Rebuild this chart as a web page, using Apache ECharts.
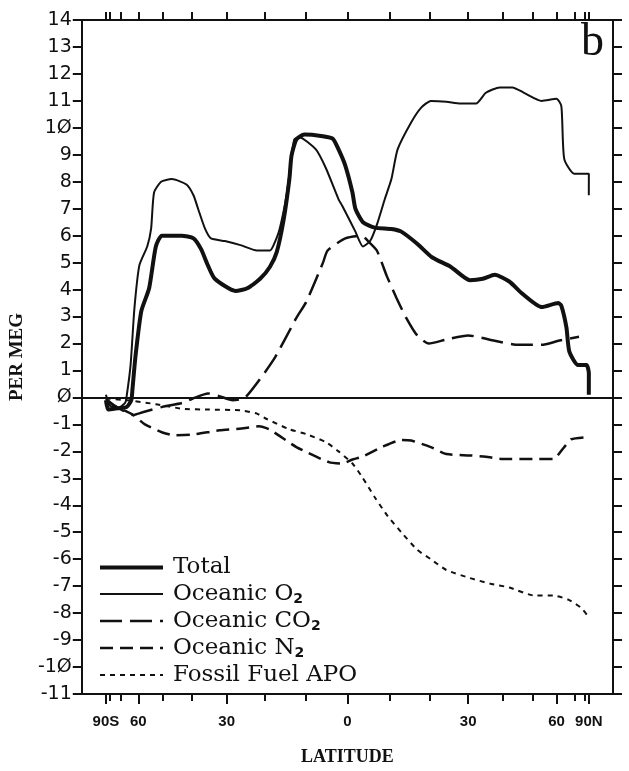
<!DOCTYPE html>
<html>
<head>
<meta charset="utf-8">
<script src="https://cdn.jsdelivr.net/npm/echarts@6/dist/echarts.min.js"></script>
<style>
  html, body { margin: 0; padding: 0; background: #fff; }
  #chart { width: 629px; height: 771px; }
</style>
</head>
<body>
<div id="chart"></div>
<script>
// latitude in degrees, values in per meg
const totalLat = [-90, -82, -72, -66, -63.5, -62.9, -61.4, -58.6, -55.2, -52.5, -50.2, -43.4, -39.6, -37.3, -35.3, -33.3, -27.6, -24.5, -21.2, -18.7, -17, -15.3, -13.9, -13.4, -12.2, -10.3, -6.3, -3.5, -2.1, -0.5, 1.2, 1.9, 3.7, 6.5, 10.5, 12.9, 16.8, 20.5, 25.3, 30.5, 34.1, 37.6, 42.1, 46.4, 53.6, 60.9, 62.4, 65.1, 66.8, 72.8, 82, 90, 89];
const totalVal = [-0.1, -0.45, -0.4, -0.35, -0.1, 0.3, 1.5, 3.2, 4.05, 5.6, 6.0, 6.0, 5.9, 5.5, 4.9, 4.4, 3.95, 4.05, 4.4, 4.85, 5.4, 6.6, 8.1, 8.95, 9.57, 9.75, 9.7, 9.6, 9.2, 8.6, 7.6, 7.0, 6.5, 6.3, 6.25, 6.15, 5.7, 5.2, 4.85, 4.35, 4.4, 4.55, 4.3, 3.85, 3.35, 3.5, 3.4, 2.6, 1.7, 1.2, 1.2, 0.9, 0.1];

const o2Lat = [-90, -80, -72, -67, -66.2, -63.9, -61.9, -59.5, -56, -54.4, -53.2, -50.5, -46.7, -41.8, -39.6, -38.2, -36.1, -34.4, -30.5, -26.3, -22, -18.7, -17.8, -16.3, -14.6, -13.5, -12.7, -11.5, -7.5, -5.1, -2.1, -1.2, 1.9, 3.7, 5.4, 7.0, 8.9, 10.5, 12, 15.3, 17.8, 20.2, 24.2, 27.9, 32.2, 35, 39.1, 43.1, 47, 53.6, 60, 62.4, 63.9, 69.9, 84.9, 90, 89];
const o2Val = [0.1, -0.3, -0.4, -0.2, 0, 1.2, 3.3, 4.9, 5.6, 6.25, 7.6, 8.0, 8.1, 7.9, 7.5, 7.0, 6.25, 5.9, 5.8, 5.65, 5.45, 5.45, 5.65, 6.25, 7.5, 8.8, 9.57, 9.65, 9.2, 8.5, 7.35, 7.1, 6.15, 5.6, 5.8, 6.4, 7.35, 8.1, 9.2, 10.2, 10.75, 11.0, 10.97, 10.9, 10.9, 11.3, 11.5, 11.5, 11.3, 11.0, 11.08, 10.8, 8.85, 8.3, 8.3, 8.3, 7.5];

const co2Lat = [-90, -75, -62.5, -58, -50, -43, -39, -35.3, -32, -28.4, -25, -17.8, -12.2, -9.8, -5.8, -4.7, -0.5, 3.5, 4.9, 7.0, 9.4, 11.7, 14.1, 16.8, 19.7, 24.2, 30, 37.6, 45.3, 53.6, 60.9, 73.6];
const co2Val = [-0.05, -0.3, -0.65, -0.55, -0.35, -0.2, 0, 0.15, 0.05, -0.1, 0, 1.4, 2.95, 3.55, 5.0, 5.45, 5.9, 6.0, 5.8, 5.45, 4.5, 3.7, 2.95, 2.3, 2.0, 2.15, 2.3, 2.1, 1.95, 1.95, 2.1, 2.25];

const n2Lat = [-90, -75, -62.5, -57, -50, -46, -40, -32, -26, -21.5, -18.7, -12.2, -4.4, -1.2, 1.2, 3.5, 8.2, 12.9, 15.3, 20.2, 24.2, 30.5, 35, 40, 50.9, 58.5, 63.9, 68, 84.9];
const n2Val = [-0.1, -0.3, -0.65, -1.0, -1.3, -1.4, -1.38, -1.22, -1.15, -1.07, -1.2, -1.84, -2.4, -2.45, -2.3, -2.2, -1.84, -1.58, -1.6, -1.84, -2.1, -2.15, -2.2, -2.28, -2.28, -2.28, -1.84, -1.55, -1.47];

const fossilLat = [-90, -80, -66, -52.5, -43, -35, -26.3, -22, -19.5, -13.9, -9.8, -5.1, -2.1, 1.2, 3.5, 6.5, 9.6, 12.9, 16.8, 20.2, 24.2, 30.5, 36.1, 42.1, 50.9, 58.5, 66.2, 75.3, 88];
const fossilVal = [0, -0.05, -0.1, -0.25, -0.42, -0.45, -0.48, -0.6, -0.8, -1.18, -1.36, -1.66, -2.0, -2.45, -2.95, -3.7, -4.4, -5.0, -5.65, -6.0, -6.4, -6.7, -6.9, -7.05, -7.35, -7.35, -7.5, -7.8, -8.15];

const tickLats = [-90, -80, -70, -60, -50, -40, -30, -20, -10, 0, 10, 20, 30, 40, 50, 60, 70, 80, 90];
const labelLats = [-90, -60, -30, 0, 30, 60, 90];
const labelNames = ['90S', '60', '30', '0', '30', '60', '90N'];

const seriesNames = ['Total', 'Oceanic O2', 'Oceanic CO2', 'Oceanic N2', 'Fossil Fuel APO'];
const legendText = [
  '{t|Total}',
  '{t|Oceanic O}{s|2}',
  '{t|Oceanic CO}{s|2}',
  '{t|Oceanic N}{s|2}',
  '{t|Fossil Fuel APO}'
];

const ink = '#111';
const lineWidths = [4, 2, 2.5, 2.5, 2];
const lineTypes = ['solid', 'solid', [22, 8], [13, 7], [5, 5]];

const sinLat = d => Math.sin(d * Math.PI / 180);
const toPts = (lats, vals) => lats.map((d, i) => [sinLat(d), vals[i]]);

const chart = echarts.init(document.getElementById('chart'));

function line(i, lats, vals) {
  return {
    name: seriesNames[i],
    type: 'line',
    data: toPts(lats, vals),
    symbol: 'none',
    smooth: 0.2,
    animation: false,
    lineStyle: { color: ink, width: lineWidths[i], type: lineTypes[i] },
    itemStyle: { color: ink }
  };
}

const series = [
  line(0, totalLat, totalVal),
  line(1, o2Lat, o2Val),
  line(2, co2Lat, co2Val),
  line(3, n2Lat, n2Val),
  line(4, fossilLat, fossilVal)
];
series[0].markLine = {
  silent: true,
  animation: false,
  symbol: ['none', 'none'],
  label: { show: false },
  lineStyle: { color: ink, width: 2, type: 'solid' },
  data: [{ yAxis: 0 }]
};

const latFmt = v => {
  const d = Math.round(Math.asin(Math.max(-1, Math.min(1, v))) * 180 / Math.PI);
  const i = labelLats.indexOf(d);
  return i >= 0 ? labelNames[i] : '';
};

const baseX = {
  type: 'value',
  min: -1.1,
  max: 1.1,
  splitLine: { show: false },
  axisLine: { show: true, onZero: false, lineStyle: { color: ink, width: 2 } }
};

const baseY = {
  type: 'value',
  min: -11,
  max: 14,
  interval: 1,
  splitLine: { show: false },
  axisLine: { show: true, onZero: false, lineStyle: { color: ink, width: 2 } },
  axisTick: { show: true, length: 9, lineStyle: { color: ink, width: 2 } }
};

chart.setOption({
  backgroundColor: '#fff',
  animation: false,
  grid: { left: 72, top: 20, width: 541, height: 679, containLabel: false },
  legend: {
    orient: 'vertical',
    left: 93,
    top: 551,
    itemWidth: 63,
    itemHeight: 14,
    itemGap: 3.5,
    selectedMode: false,
    data: seriesNames.map((n, i) => ({
      name: n,
      itemStyle: { opacity: 0 },
      lineStyle: { color: ink, width: lineWidths[i], type: lineTypes[i] }
    })),
    itemStyle: { opacity: 0 },
    formatter: name => legendText[seriesNames.indexOf(name)],
    textStyle: {
      color: ink,
      rich: {
        t: { fontFamily: 'DejaVu Serif', fontSize: 23, lineHeight: 24, color: ink, padding: [0, 0, 0, 5] },
        s: { fontFamily: 'DejaVu Sans', fontWeight: 'bold', fontSize: 14, lineHeight: 12, verticalAlign: 'bottom', color: ink }
      }
    }
  },
  xAxis: [
    Object.assign({}, baseX, {
      position: 'bottom',
      name: 'LATITUDE',
      nameLocation: 'middle',
      nameGap: 54,
      nameTextStyle: { fontFamily: 'Liberation Serif', fontWeight: 'bold', fontSize: 18, color: ink },
      axisTick: { show: true, length: 7, lineStyle: { color: ink, width: 2 }, customValues: tickLats.map(sinLat) },
      axisLabel: {
        show: true, margin: 20, color: ink,
        fontFamily: 'Liberation Sans', fontWeight: 'bold', fontSize: 15,
        customValues: labelLats.map(sinLat),
        formatter: latFmt
      }
    }),
    Object.assign({}, baseX, {
      position: 'top',
      axisTick: { show: true, length: 8, lineStyle: { color: ink, width: 2 }, customValues: tickLats.map(sinLat) },
      axisLabel: { show: false }
    }),
    Object.assign({}, baseX, {
      position: 'bottom',
      axisLine: { show: false, onZero: false },
      axisTick: { show: true, length: 10, lineStyle: { color: ink, width: 2 }, customValues: labelLats.map(sinLat) },
      axisLabel: { show: false }
    })
  ],
  yAxis: [
    Object.assign({}, baseY, {
      position: 'left',
      axisLabel: {
        margin: 10, color: ink, fontFamily: 'DejaVu Sans', fontSize: 19,
        formatter: v => String(v).replace(/0/g, 'Ø')
      },
      name: 'PER MEG',
      nameLocation: 'middle',
      nameGap: 42,
      nameTextStyle: { fontFamily: 'Liberation Serif', fontWeight: 'bold', fontSize: 19, color: ink }
    }),
    Object.assign({}, baseY, {
      position: 'right',
      axisLabel: { show: false }
    })
  ],
  graphic: [
    {
      type: 'text',
      left: 581,
      top: 20,
      style: { text: 'b', font: '46px "Liberation Serif"', fill: ink }
    }
  ],
  series: series
});

window.addEventListener('resize', function () {
  chart.resize();
});
</script>
</body>
</html>
